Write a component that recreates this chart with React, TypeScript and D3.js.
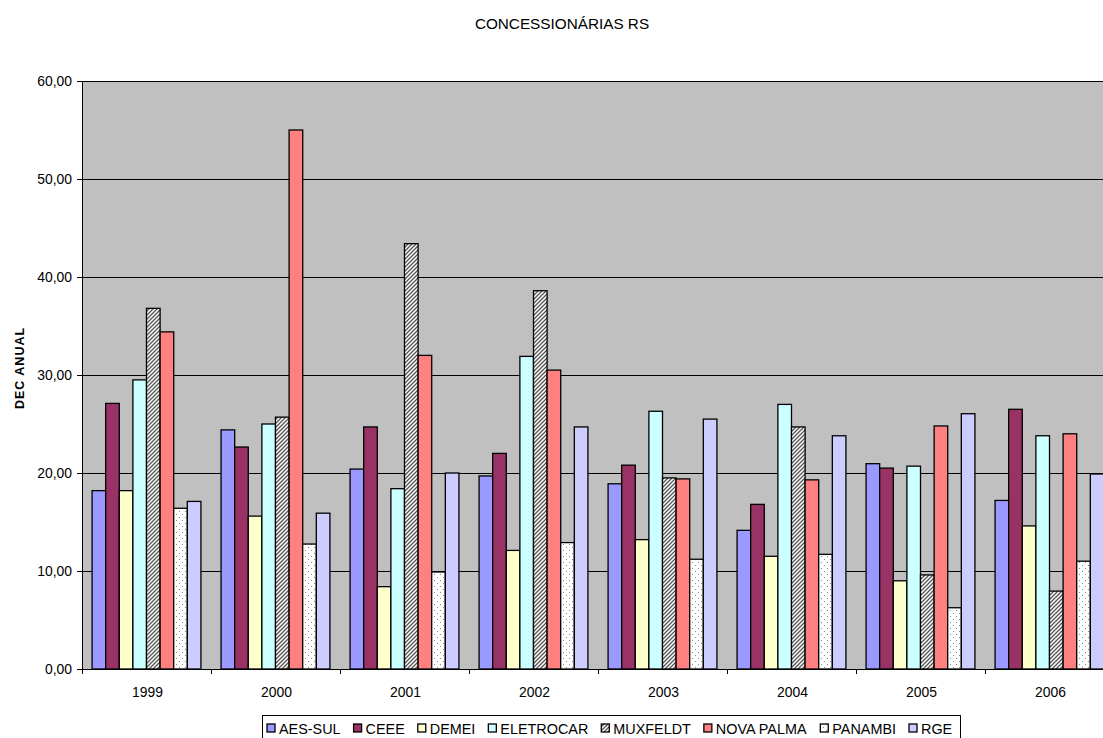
import React, { useMemo } from "react";
import * as d3 from "d3";

// Annual DEC (hours) per distribution company, Rio Grande do Sul
const years = ["1999", "2000", "2001", "2002", "2003", "2004", "2005", "2006"];
const companies = ["AES-SUL", "CEEE", "DEMEI", "ELETROCAR", "MUXFELDT", "NOVA PALMA", "PANAMBI", "RGE"];

const aesSul = [18.2, 24.4, 20.4, 19.7, 18.9, 14.15, 20.95, 17.2];
const ceee = [27.1, 22.65, 24.7, 22.0, 20.8, 16.8, 20.5, 26.5];
const demei = [18.2, 15.6, 8.4, 12.1, 13.2, 11.5, 9.0, 14.6];
const eletrocar = [29.5, 25.0, 18.4, 31.9, 26.3, 27.0, 20.7, 23.8];
const muxfeldt = [36.8, 25.7, 43.4, 38.6, 19.5, 24.7, 9.6, 7.95];
const novaPalma = [34.4, 55.0, 32.0, 30.5, 19.4, 19.3, 24.8, 24.0];
const panambi = [16.4, 12.75, 9.9, 12.9, 11.2, 11.7, 6.25, 11.0];
const rge = [17.1, 15.9, 20.0, 24.7, 25.5, 23.8, 26.05, 19.9];

const seriesValues = [aesSul, ceee, demei, eletrocar, muxfeldt, novaPalma, panambi, rge];

const yTicks = [0, 10, 20, 30, 40, 50, 60];

const fills = [
  "#9999FF",
  "#993366",
  "#FFFFCC",
  "#CCFFFF",
  "url(#hatch)",
  "#FF8080",
  "url(#dots)",
  "#CCCCFF",
];

const FONT = "'Liberation Sans', Arial, sans-serif";
const W = 1103;
const H = 738;
const plot = { left: 82, top: 81, bottom: 669, groupW: 129 };

function measure(text: string, font: string): number {
  const c = document.createElement("canvas").getContext("2d");
  if (!c) return text.length * 8;
  c.font = font;
  return c.measureText(text).width;
}

export default function App() {
  const x0 = d3
    .scaleBand<string>()
    .domain(years)
    .range([plot.left, plot.left + plot.groupW * years.length])
    .paddingInner(0)
    .paddingOuter(0);
  const x1 = d3
    .scaleBand<string>()
    .domain(companies)
    .range([0, x0.bandwidth()])
    .paddingInner(0)
    .paddingOuter(0.74);
  const y = d3.scaleLinear().domain([0, 60]).range([plot.bottom, plot.top]);
  const fmt = (v: number) => d3.format(".2f")(v).replace(".", ",");

  const legendFont = `14.4px ${FONT}`;
  const legendItems = useMemo(() => {
    let cx = 267;
    return companies.map((name, i) => {
      const item = { name, i, sx: cx, tx: cx + 12 };
      cx = cx + 12 + measure(name, legendFont) + 13;
      return item;
    });
  }, []);
  const legendRight = legendItems[legendItems.length - 1].tx + measure("RGE", legendFont) + 8;
  const plotRight = plot.left + plot.groupW * years.length;

  return (
    <svg width={W} height={H} style={{ position: "absolute", left: 0, top: 0, background: "#fff" }}>
      <defs>
        <pattern id="hatch" patternUnits="userSpaceOnUse" width="4" height="4">
          <rect width="4" height="4" fill="#fff" />
          <path d="M-1,1 l2,-2 M0,4 l4,-4 M3,5 l2,-2" stroke="#555" strokeWidth="1.3" />
        </pattern>
        <pattern id="dots" patternUnits="userSpaceOnUse" width="6" height="6">
          <rect width="6" height="6" fill="#fff" />
          <rect x="1" y="1" width="1" height="1" fill="#888" />
          <rect x="4" y="4" width="1" height="1" fill="#888" />
        </pattern>
      </defs>

      <text x={562} y={29} textAnchor="middle" fontFamily={FONT} fontSize="15.3px" fill="#000">
        CONCESSIONÁRIAS RS
      </text>

      {/* plot area */}
      <rect x={plot.left} y={plot.top} width={plotRight - plot.left} height={plot.bottom - plot.top} fill="#C0C0C0" />
      {yTicks.filter((t) => t > 0).map((t) => (
        <line key={t} x1={plot.left} x2={plotRight} y1={y(t)} y2={y(t)} stroke="#000" strokeWidth={1} shapeRendering="crispEdges" />
      ))}

      {/* bars */}
      {years.map((yr, gi) => (
        <g key={yr} transform={`translate(${x0(yr)},0)`}>
          {companies.map((c, si) => {
            const v = seriesValues[si][gi];
            return (
              <rect
                key={c}
                x={x1(c)}
                y={y(v)}
                width={x1.bandwidth()}
                height={y(0) - y(v)}
                fill={fills[si]}
                stroke="#000"
                strokeWidth={1.3}
              />
            );
          })}
        </g>
      ))}

      {/* axes */}
      <line x1={plot.left} x2={plot.left} y1={plot.top} y2={plot.bottom} stroke="#000" shapeRendering="crispEdges" />
      <line x1={plot.left - 5} x2={plotRight} y1={plot.bottom} y2={plot.bottom} stroke="#000" shapeRendering="crispEdges" />
      {yTicks.map((t) => (
        <g key={t}>
          <line x1={plot.left - 5} x2={plot.left} y1={y(t)} y2={y(t)} stroke="#000" shapeRendering="crispEdges" />
          <text x={plot.left - 10} y={y(t) + 5} textAnchor="end" fontFamily={FONT} fontSize="13.9px" fill="#000">
            {fmt(t)}
          </text>
        </g>
      ))}
      {years.map((yr) => (
        <g key={yr}>
          <line x1={x0(yr)!} x2={x0(yr)!} y1={plot.bottom} y2={plot.bottom + 5} stroke="#000" shapeRendering="crispEdges" />
          <text x={x0(yr)! + x0.bandwidth() / 2 + 1} y={697} textAnchor="middle" fontFamily={FONT} fontSize="13.9px" fill="#000">
            {yr}
          </text>
        </g>
      ))}

      <text
        transform={`translate(24,${368}) rotate(-90)`}
        textAnchor="middle"
        fontFamily={FONT}
        fontSize="12.5px"
        fontWeight="bold"
        letterSpacing="1"
        fill="#000"
      >
        DEC ANUAL
      </text>

      {/* legend */}
      <rect x={262} y={715} width={legendRight - 262} height={40} fill="#fff" stroke="#000" strokeWidth={1} shapeRendering="crispEdges" />
      {legendItems.map((it) => (
        <g key={it.name}>
          <rect x={it.sx} y={724} width={8} height={8} fill={fills[it.i]} stroke="#000" strokeWidth={1.3} />
          <text x={it.tx} y={734} fontFamily={FONT} fontSize="14.4px" fill="#000">
            {it.name}
          </text>
        </g>
      ))}
    </svg>
  );
}
